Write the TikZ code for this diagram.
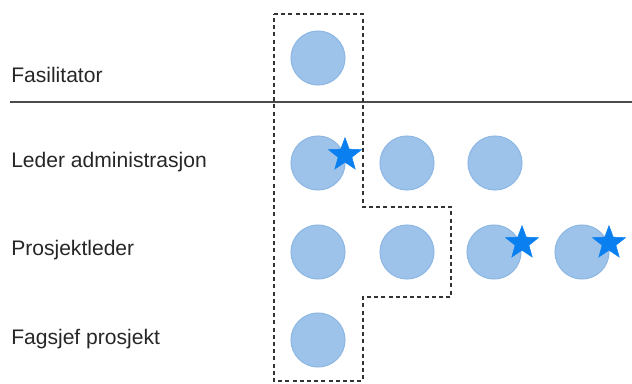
\documentclass[tikz,border=0pt]{standalone}
\usepackage{fontspec}
\setmainfont{Liberation Sans}
\usetikzlibrary{shapes.geometric}
\definecolor{dotfill}{HTML}{9EC3EA}
\definecolor{dotdraw}{HTML}{8DB7E4}
\definecolor{starblue}{HTML}{0A80F0}
\definecolor{dashgray}{HTML}{333333}
\begin{document}
\begin{tikzpicture}[x=0.75pt,y=-0.75pt,
  dot/.style={circle,fill=dotfill,draw=dotdraw,line width=0.8pt,minimum size=40.5pt,inner sep=0pt},
  mark star/.style={star,star points=5,star point ratio=2.4,fill=starblue,draw=starblue,minimum size=26pt,inner sep=0pt},
  lab/.style={anchor=west,font=\fontsize{15.8pt}{18pt}\selectfont,text=black!85,inner sep=0pt},
  grp/.style={draw=dashgray,line width=1.5pt,dash pattern=on 3pt off 2.4pt}]
\useasboundingbox (0,0) rectangle (632,383);
% labels
\node[lab] (l1) at (11,75) {Fasilitator};
\node[lab] (l2) at (11,162) {Leder administrasjon};
\node[lab] (l3) at (11,250) {Prosjektleder};
\node[lab] (l4) at (11,339) {Fagsjef prosjekt};
% separator
\coordinate (s1) at (10,102);
\coordinate (s2) at (632,102);
\draw[line width=1.3pt,draw=black!70] (s1) -- (s2);
% dashed group
\coordinate (g1) at (274,14);
\coordinate (g2) at (363,14);
\coordinate (g3) at (363,207);
\coordinate (g4) at (451,207);
\coordinate (g5) at (451,297);
\coordinate (g6) at (363,297);
\coordinate (g7) at (363,381);
\coordinate (g8) at (274,381);
\draw[grp] (g1) -- (g2) -- (g3) -- (g4) -- (g5) -- (g6) -- (g7) -- (g8) -- cycle;
% dots
\node[dot] (a1) at (318,58) {};
\node[dot] (b1) at (318,163) {};
\node[dot] (b2) at (407,163) {};
\node[dot] (b3) at (495,163) {};
\node[dot] (c1) at (318,252) {};
\node[dot] (c2) at (407,252) {};
\node[dot] (c3) at (494,252) {};
\node[dot] (c4) at (582,252) {};
\node[dot] (d1) at (318,340) {};
% stars
\node[mark star] (s-b1) at (345,155) {};
\node[mark star] (s-c3) at (522,243) {};
\node[mark star] (s-c4) at (609,243) {};
\end{tikzpicture}
\end{document}
